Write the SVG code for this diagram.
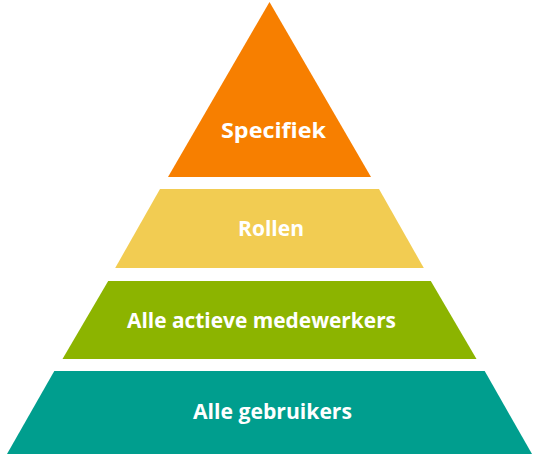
<svg xmlns="http://www.w3.org/2000/svg" width="553" height="457" viewBox="0 0 553 457">
<style>
text{font-family:"Open Sans","Noto Sans",sans-serif;font-weight:bold;font-size:21px;fill:#fff;text-anchor:middle;dominant-baseline:central}
</style>
<rect width="553" height="457" fill="#fff"/>
<g id="level1"><polygon points="269.5,2 371,177 168,177" fill="#F77F00"/><text x="273.5" y="130" textLength="105" lengthAdjust="spacingAndGlyphs">Specifiek</text></g>
<g id="level2"><polygon points="160,189 379,189 423.8,268 115.2,268" fill="#F2CC52"/><text x="271" y="228" textLength="66" lengthAdjust="spacingAndGlyphs">Rollen</text></g>
<g id="level3"><polygon points="108.2,281 430.8,281 476.5,359 62.5,359" fill="#8CB400"/><text x="261.5" y="320" textLength="269" lengthAdjust="spacingAndGlyphs">Alle actieve medewerkers</text></g>
<g id="level4"><polygon points="54.3,371 484.7,371 532,454 7,454" fill="#009E8E"/><text x="272.5" y="411" textLength="159" lengthAdjust="spacingAndGlyphs">Alle gebruikers</text></g>
</svg>
